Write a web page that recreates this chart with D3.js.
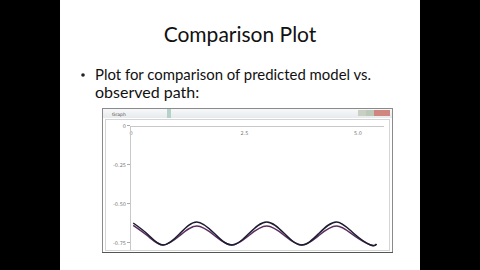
<!DOCTYPE html>
<html>
<head>
<meta charset="utf-8">
<script src="https://cdn.jsdelivr.net/npm/d3@7"></script>
<style>
  html, body { margin: 0; padding: 0; background: #000; }
  svg { display: block; }
</style>
</head>
<body>
<svg id="chart" width="480" height="270"></svg>
<script>
// Values (x in plot units, y in plot units)
const xTicks = [0, 2.5, 5.0];
const xTickLabels = ["0", "2.5", "5.0"];
const yTicks = [0, -0.25, -0.5, -0.75];
const yTickLabels = ["0", "-0.25", "-0.50", "-0.75"];

// observed path (dark)
const observedX = [0.07, 0.40, 0.73, 1.10, 1.47, 1.86, 2.24, 2.62, 3.01, 3.40, 3.78, 4.16, 4.55, 4.93, 5.30, 5.43];
const observedY = [-0.625, -0.70, -0.766, -0.692, -0.618, -0.692, -0.766, -0.692, -0.618, -0.692, -0.766, -0.692, -0.618, -0.692, -0.766, -0.760];
// predicted model (purple)
const predictedX = [0.07, 0.40, 0.73, 1.10, 1.47, 1.86, 2.24, 2.62, 3.01, 3.40, 3.78, 4.16, 4.55, 4.93, 5.30, 5.43];
const predictedY = [-0.64, -0.71, -0.766, -0.705, -0.645, -0.705, -0.766, -0.705, -0.645, -0.705, -0.766, -0.705, -0.645, -0.705, -0.766, -0.761];

const svg = d3.select("#chart");

// slide background
svg.append("rect").attr("x", 60).attr("y", 0).attr("width", 360).attr("height", 270).attr("fill", "#fff");

// title and bullet text
svg.append("text")
  .attr("x", 240).attr("y", 42)
  .attr("text-anchor", "middle")
  .style("font-family", "Lato, 'Open Sans', sans-serif")
  .style("font-size", "21px")
  .style("fill", "#111")
  .text("Comparison Plot");

svg.append("circle").attr("cx", 83).attr("cy", 75).attr("r", 1.8).attr("fill", "#222");

const bullet = svg.append("text")
  .style("font-family", "Lato, 'Open Sans', sans-serif")
  .style("font-size", "16px")
  .style("fill", "#111");
bullet.append("tspan").attr("x", 95).attr("y", 80)
  .attr("textLength", 276).attr("lengthAdjust", "spacingAndGlyphs")
  .text("Plot for comparison of predicted model vs.");
bullet.append("tspan").attr("x", 95).attr("y", 98)
  .text("observed path:");

// graph window chrome
const win = svg.append("g");
win.append("rect").attr("x", 102.5).attr("y", 108.5).attr("width", 290).attr("height", 144)
  .attr("fill", "#fff").attr("stroke", "#8a8a8a");
const grad = svg.append("defs").append("linearGradient").attr("id", "bar")
  .attr("x1", 0).attr("x2", 0).attr("y1", 0).attr("y2", 1);
grad.append("stop").attr("offset", "0%").attr("stop-color", "#f7f8f9");
grad.append("stop").attr("offset", "100%").attr("stop-color", "#e6eaed");
win.append("rect").attr("x", 103).attr("y", 109).attr("width", 289).attr("height", 9).attr("fill", "url(#bar)");
win.append("rect").attr("x", 167).attr("y", 109).attr("width", 4).attr("height", 9).attr("fill", "#b5d2c8");
win.append("rect").attr("x", 358).attr("y", 110).attr("width", 8).attr("height", 6).attr("fill", "#c9d0c2");
win.append("rect").attr("x", 366).attr("y", 110).attr("width", 8).attr("height", 6).attr("fill", "#bcc8b8");
win.append("rect").attr("x", 374).attr("y", 110).attr("width", 16).attr("height", 6).attr("fill", "#d0857f");
win.append("text").attr("x", 112).attr("y", 116)
  .style("font-family", "DejaVu Sans, sans-serif").style("font-size", "4.5px").style("fill", "#555")
  .text("Graph");
win.append("rect").attr("x", 105.5).attr("y", 119.5).attr("width", 284).attr("height", 131)
  .attr("fill", "none").attr("stroke", "#d4d4d4");
win.append("line").attr("x1", 102).attr("x2", 393).attr("y1", 252.5).attr("y2", 252.5)
  .attr("stroke", "#555").attr("stroke-width", 1.2);

// scales
const x = d3.scaleLinear().domain([0, 5.0]).range([130, 357]);
const y = d3.scaleLinear().domain([0, -0.75]).range([125.5, 242.5]);

// x axis along the top
svg.append("line").attr("x1", 130).attr("x2", 384).attr("y1", 126.5).attr("y2", 126.5)
  .attr("stroke", "#c8c8c8");
svg.append("g").selectAll("text").data(xTicks).join("text")
  .attr("x", (d) => x(d) + 1).attr("y", 135)
  .attr("text-anchor", "middle")
  .style("font-family", "DejaVu Sans, sans-serif").style("font-size", "5px").style("fill", "#777")
  .text((d, i) => xTickLabels[i]);

// y axis
svg.append("line").attr("x1", 130.5).attr("x2", 130.5).attr("y1", 126).attr("y2", 250)
  .attr("stroke", "#c8c8c8");
const yg = svg.append("g");
yg.selectAll("line").data(yTicks).join("line")
  .attr("x1", 127).attr("x2", 130).attr("y1", (d) => y(d)).attr("y2", (d) => y(d))
  .attr("stroke", "#aaa");
yg.selectAll("text").data(yTicks).join("text")
  .attr("x", 126).attr("y", (d) => y(d) + 2)
  .attr("text-anchor", "end")
  .style("font-family", "DejaVu Sans, sans-serif").style("font-size", "5px").style("fill", "#777")
  .text((d, i) => yTickLabels[i]);

// curves
const line = d3.line().x((d) => x(d[0])).y((d) => y(d[1])).curve(d3.curveNatural);
const observed = observedX.map((v, i) => [v, observedY[i]]);
const predicted = predictedX.map((v, i) => [v, predictedY[i]]);

svg.append("path").datum(predicted).attr("d", line)
  .attr("fill", "none").attr("stroke", "#5a2d5e").attr("stroke-width", 1.5);
svg.append("path").datum(observed).attr("d", line)
  .attr("fill", "none").attr("stroke", "#1c1c30").attr("stroke-width", 1.5);
</script>
</body>
</html>
